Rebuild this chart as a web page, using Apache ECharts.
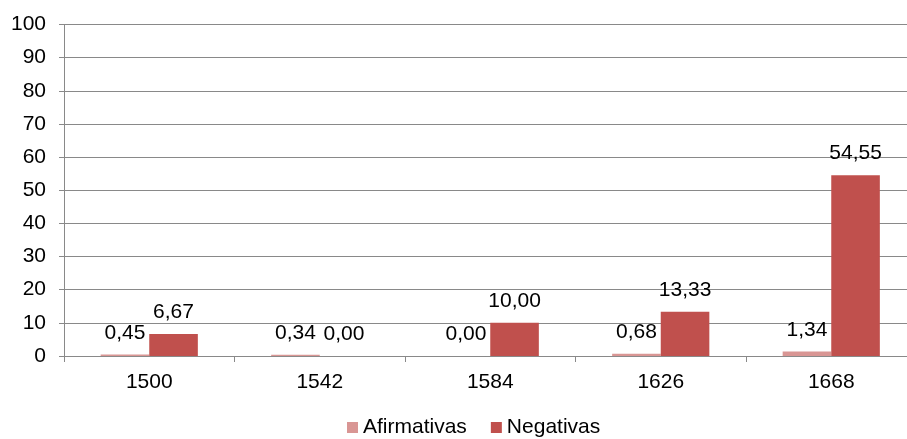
<!DOCTYPE html>
<html>
<head>
<meta charset="utf-8">
<script src="https://cdn.jsdelivr.net/npm/echarts@6/dist/echarts.min.js"></script>
<style>
  html, body { margin: 0; padding: 0; background: #fff; }
  #chart { width: 907px; height: 439px; }
</style>
</head>
<body>
<div id="chart"></div>
<script>
const categories = ['1500', '1542', '1584', '1626', '1668'];
const afirmativas = [0.45, 0.34, 0.00, 0.68, 1.34];
const negativas = [6.67, 0.00, 10.00, 13.33, 54.55];
const yTicks = { min: 0, max: 100, interval: 10 };

const fmt = v => v.toFixed(2).replace('.', ',');
const font = 'Liberation Sans, Arial, sans-serif';
const grey = '#898989';
const fs = 21;

const chart = echarts.init(document.getElementById('chart'));

function barLabel() {
  return {
    show: true,
    position: 'top',
    distance: 11,
    color: '#000',
    fontFamily: font,
    fontSize: fs,
    formatter: p => fmt(p.value)
  };
}

chart.setOption({
  animation: false,
  grid: {
    left: 64, top: 24.5, height: 331.5, width: 852.5,
    containLabel: false, outerBoundsMode: 'none'
  },
  legend: {
    left: 347,
    top: 417,
    padding: 0,
    itemWidth: 11,
    itemHeight: 11,
    itemGap: 24,
    icon: 'rect',
    textStyle: { fontFamily: font, fontSize: fs, color: '#000' },
    data: ['Afirmativas', 'Negativas']
  },
  xAxis: {
    type: 'category',
    data: categories,
    axisLine: { lineStyle: { color: grey, width: 1 } },
    axisTick: { show: true, length: 6, lineStyle: { color: grey } },
    axisLabel: { color: '#000', fontFamily: font, fontSize: fs, margin: 16 }
  },
  yAxis: {
    type: 'value',
    min: yTicks.min,
    max: yTicks.max,
    interval: yTicks.interval,
    axisLine: { show: true, lineStyle: { color: grey, width: 1 } },
    axisTick: { show: true, length: 5, lineStyle: { color: grey } },
    splitLine: { lineStyle: { color: grey, width: 1 } },
    axisLabel: { color: '#000', fontFamily: font, fontSize: fs, margin: 18 }
  },
  series: [
    {
      name: 'Afirmativas',
      type: 'bar',
      data: afirmativas,
      barGap: '0%',
      barCategoryGap: '43%',
      itemStyle: { color: '#D99694' },
      label: barLabel()
    },
    {
      name: 'Negativas',
      type: 'bar',
      data: negativas,
      barGap: '0%',
      barCategoryGap: '43%',
      itemStyle: { color: '#C0504D' },
      label: barLabel()
    }
  ]
});
</script>
</body>
</html>
